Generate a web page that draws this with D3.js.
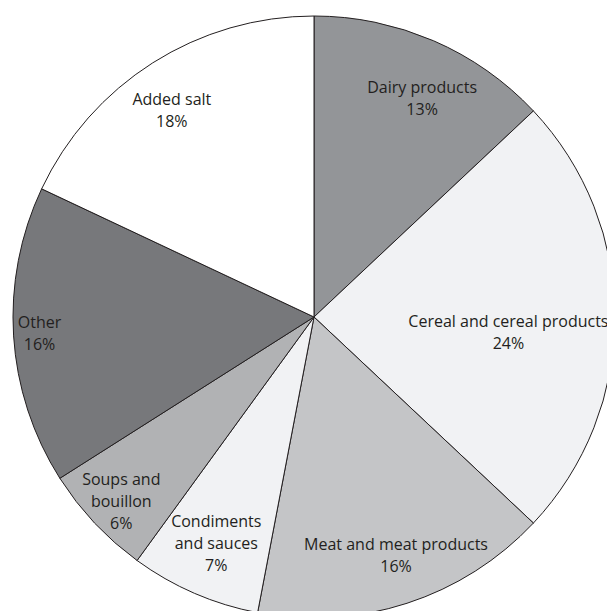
<!DOCTYPE html>
<html>
<head>
<meta charset="utf-8">
<script src="https://cdn.jsdelivr.net/npm/d3@7"></script>
<style>
  html, body { margin: 0; padding: 0; background: #ffffff; }
  svg { display: block; }
  text { font-family: "Open Sans", "Noto Sans", sans-serif; }
</style>
</head>
<body>
<svg id="chart" width="607" height="611"></svg>
<script>
// Sources of dietary salt, share of intake (%)
const categories = [
  ["Dairy products"],
  ["Cereal and cereal products"],
  ["Meat and meat products"],
  ["Condiments", "and sauces"],
  ["Soups and", "bouillon"],
  ["Other"],
  ["Added salt"]
];
const shares = [13, 24, 16, 7, 6, 16, 18];

// Slice fills, in category order
const fills = ["#939598", "#f1f2f4", "#c4c5c7", "#f1f2f4", "#b1b2b4", "#77787b", "#ffffff"];

// Label anchor for each slice: distance from centre and bearing (degrees clockwise from 12 o'clock)
const labelRadius = [244, 195, 252, 247, 267, 275, 251];
const labelBearing = [26.3, 94.4, 161.0, 203.3, 226.2, 266.5, 325.5];

const width = 607, height = 611;
const cx = 314, cy = 317, radius = 301;

const svg = d3.select("#chart");
const g = svg.append("g").attr("transform", `translate(${cx},${cy})`);

const data = shares.map((v, i) => ({ lines: categories[i], value: v, i }));

const pie = d3.pie().value(d => d.value).sort(null);
const arc = d3.arc().innerRadius(0).outerRadius(radius);

g.selectAll("path.slice")
  .data(pie(data))
  .join("path")
  .attr("class", "slice")
  .attr("d", arc)
  .attr("fill", d => fills[d.data.i])
  .attr("stroke", "#231f20")
  .attr("stroke-width", 1)
  .attr("stroke-linejoin", "round");

const lineH = 22;
const labels = g.selectAll("text.label")
  .data(data)
  .join("text")
  .attr("class", "label")
  .attr("text-anchor", "middle")
  .attr("font-size", 16)
  .attr("fill", "#231f20")
  .attr("transform", d => {
    const a = labelBearing[d.i] * Math.PI / 180;
    const r = labelRadius[d.i];
    return `translate(${r * Math.sin(a)},${-r * Math.cos(a)})`;
  });

labels.each(function(d) {
  const lines = d.lines.concat([d.value + "%"]);
  const n = lines.length;
  d3.select(this).selectAll("tspan")
    .data(lines)
    .join("tspan")
    .attr("x", 0)
    .attr("y", (t, k) => (k - (n - 1) / 2) * lineH)
    .attr("dy", "0.35em")
    .text(t => t);
});
</script>
</body>
</html>
